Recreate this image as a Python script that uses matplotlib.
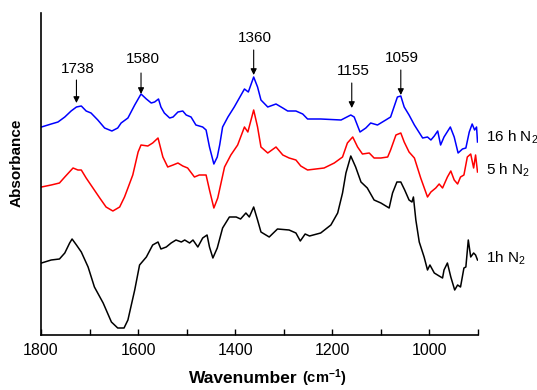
"""FTIR spectra of the sample after 1 h, 5 h and 16 h under N2."""
import matplotlib
matplotlib.use('Agg')
import matplotlib.pyplot as plt
from matplotlib.ticker import MultipleLocator, NullFormatter

plt.rcParams['font.family'] = ['Liberation Sans', 'DejaVu Sans']
plt.rcParams['mathtext.default'] = 'regular'

# Spectra: wavenumber (cm-1) and absorbance (a.u.)
wn_16h = [1799, 1779, 1765, 1751, 1738, 1727, 1717, 1707, 1697, 1683, 1669,
          1654, 1642, 1635, 1621, 1607, 1594, 1583, 1573, 1566, 1558, 1553,
          1546, 1535, 1528, 1518, 1508, 1501, 1491, 1481, 1467, 1460, 1453,
          1444, 1437, 1432, 1426, 1415, 1402, 1388, 1381, 1373, 1362, 1354,
          1347, 1333, 1316, 1302, 1292, 1275, 1261, 1251, 1224, 1182, 1162,
          1155, 1143, 1131, 1121, 1107, 1090, 1080, 1066, 1059, 1052, 1042,
          1031, 1014, 1004, 997, 990, 983, 977, 970, 957, 949, 941, 932, 925,
          918, 912, 907, 903, 901]
abs_16h = [2.08, 2.11, 2.13, 2.18, 2.24, 2.28, 2.29, 2.24, 2.22, 2.15, 2.07,
           2.04, 2.07, 2.12, 2.17, 2.30, 2.41, 2.36, 2.32, 2.33, 2.36, 2.28,
           2.22, 2.17, 2.18, 2.23, 2.24, 2.20, 2.18, 2.10, 2.08, 2.05, 1.88,
           1.71, 1.78, 1.90, 2.08, 2.18, 2.28, 2.40, 2.46, 2.43, 2.58, 2.48,
           2.35, 2.28, 2.31, 2.27, 2.24, 2.24, 2.21, 2.16, 2.16, 2.15, 2.20,
           2.18, 2.03, 2.07, 2.12, 2.10, 2.15, 2.18, 2.38, 2.39, 2.28, 2.20,
           2.10, 1.97, 1.98, 1.95, 1.99, 2.04, 1.90, 1.98, 2.08, 1.98, 1.82,
           1.86, 1.87, 2.03, 2.11, 2.05, 2.08, 1.93]

wn_5h = [1799, 1779, 1762, 1751, 1734, 1724, 1717, 1707, 1693, 1679, 1666,
         1652, 1638, 1628, 1621, 1611, 1600, 1594, 1580, 1570, 1559, 1549,
         1539, 1528, 1518, 1508, 1498, 1484, 1474, 1460, 1453, 1444, 1436,
         1422, 1409, 1395, 1381, 1374, 1362, 1354, 1347, 1333, 1316, 1302,
         1289, 1275, 1265, 1251, 1217, 1196, 1179, 1169, 1158, 1148, 1138,
         1124, 1114, 1100, 1086, 1080, 1069, 1059, 1052, 1042, 1031, 1018,
         1004, 997, 987, 980, 973, 963, 956, 949, 942, 936, 929, 922, 915,
         909, 905, 901]
abs_5h = [1.48, 1.50, 1.52, 1.58, 1.67, 1.65, 1.65, 1.57, 1.47, 1.37, 1.28,
          1.24, 1.28, 1.38, 1.47, 1.60, 1.83, 1.90, 1.89, 1.92, 1.97, 1.78,
          1.68, 1.70, 1.72, 1.69, 1.67, 1.58, 1.60, 1.60, 1.45, 1.27, 1.37,
          1.68, 1.80, 1.90, 2.08, 2.03, 2.25, 2.08, 1.88, 1.82, 1.88, 1.80,
          1.77, 1.75, 1.69, 1.65, 1.67, 1.72, 1.78, 1.92, 1.98, 1.88, 1.81,
          1.82, 1.77, 1.77, 1.78, 1.85, 2.00, 2.02, 1.93, 1.83, 1.77, 1.57,
          1.38, 1.43, 1.47, 1.51, 1.47, 1.58, 1.64, 1.55, 1.51, 1.58, 1.60,
          1.78, 1.81, 1.67, 1.80, 1.63]

wn_1h = [1799, 1779, 1762, 1751, 1741, 1736, 1727, 1717, 1703, 1690, 1672,
         1655, 1642, 1629, 1621, 1607, 1597, 1583, 1570, 1559, 1553, 1542,
         1532, 1522, 1511, 1504, 1494, 1487, 1477, 1467, 1458, 1453, 1446,
         1437, 1426, 1412, 1398, 1389, 1378, 1371, 1362, 1354, 1347, 1330,
         1313, 1289, 1275, 1266, 1256, 1247, 1224, 1203, 1189, 1179, 1172,
         1162, 1152, 1141, 1128, 1114, 1100, 1083, 1076, 1067, 1059, 1051,
         1042, 1036, 1033, 1028, 1021, 1011, 1004, 999, 990, 980, 973, 970,
         963, 956, 948, 942, 936, 929, 925, 920, 915, 909, 905, 901]
abs_1h = [0.72, 0.75, 0.76, 0.82, 0.92, 0.96, 0.90, 0.83, 0.68, 0.48, 0.32,
          0.13, 0.07, 0.07, 0.15, 0.45, 0.70, 0.78, 0.90, 0.93, 0.86, 0.88,
          0.92, 0.95, 0.93, 0.95, 0.92, 0.95, 0.88, 0.97, 1.00, 0.88, 0.77,
          0.87, 1.07, 1.18, 1.18, 1.16, 1.22, 1.18, 1.28, 1.15, 1.03, 0.98,
          1.06, 1.05, 1.02, 0.94, 1.01, 0.99, 1.02, 1.10, 1.22, 1.42, 1.62,
          1.79, 1.68, 1.53, 1.47, 1.35, 1.32, 1.27, 1.42, 1.53, 1.53, 1.45,
          1.35, 1.33, 1.38, 1.15, 0.93, 0.78, 0.65, 0.70, 0.62, 0.59, 0.57,
          0.65, 0.72, 0.58, 0.45, 0.50, 0.48, 0.67, 0.68, 0.95, 0.78, 0.82,
          0.80, 0.75]

series_labels = ['16 h N$_2$', '5 h N$_2$', '1h N$_2$']
label_levels = [1.98, 1.65, 0.77]

# Peak annotations: label, arrow position, arrow tail / tip, label height
peak_labels = ['1738', '1580', '1360', '1155', '1059']
peak_pos = [1727, 1594, 1362, 1160, 1059]
arrow_tail = [2.55, 2.62, 2.85, 2.52, 2.65]
arrow_tip = [2.32, 2.41, 2.60, 2.27, 2.40]
text_level = [2.66, 2.76, 2.97, 2.64, 2.77]


def main():
    fig = plt.figure(figsize=(5.37, 3.90), dpi=100)
    ax = fig.add_axes([41 / 537, 1 - 335 / 390, 437 / 537, 322 / 390])

    ax.plot(wn_16h, abs_16h, color='#0000ff', lw=1.1)
    ax.plot(wn_5h, abs_5h, color='#ff0000', lw=1.1)
    ax.plot(wn_1h, abs_1h, color='black', lw=1.1)

    for lab, y in zip(series_labels, label_levels):
        ax.text(884, y, lab, fontsize=11, ha='left', va='center', clip_on=False)

    for lab, x, y0, y1, yt in zip(peak_labels, peak_pos, arrow_tail,
                                  arrow_tip, text_level):
        ax.annotate('', xy=(x, y1), xytext=(x, y0),
                    arrowprops=dict(arrowstyle='-|>', color='black', lw=0.8,
                                    mutation_scale=9, shrinkA=0, shrinkB=0))
        ax.text(x - 3, yt, lab, fontsize=11, ha='center', va='center')

    ax.set_xlim(1800, 900)
    ax.set_ylim(0, 3.22)
    ax.spines['top'].set_visible(False)
    ax.spines['right'].set_visible(False)
    for s in ('left', 'bottom'):
        ax.spines[s].set_linewidth(1.2)
    ax.set_yticks([])
    ax.xaxis.set_major_locator(MultipleLocator(200))
    ax.xaxis.set_minor_locator(MultipleLocator(100))
    ax.xaxis.set_minor_formatter(NullFormatter())
    ax.tick_params(axis='x', which='both', direction='in', length=4,
                   width=1.0, labelsize=11.5, pad=6)

    fig.text(17 / 537, 1 - 163 / 390, 'Absorbance', rotation=90,
             fontsize=11, fontweight='bold', ha='center', va='center')
    fig.text(298 / 537, 1 - 383 / 390, 'Wavenumber', fontsize=12.5,
             fontweight='bold', ha='right', va='baseline')
    fig.text(302 / 537, 1 - 383 / 390, '(cm$^{-1}$)', fontsize=10.5,
             fontweight='bold', ha='left', va='baseline')

    fig.savefig('out.png', dpi=100)
    plt.close(fig)


if __name__ == '__main__':
    main()
